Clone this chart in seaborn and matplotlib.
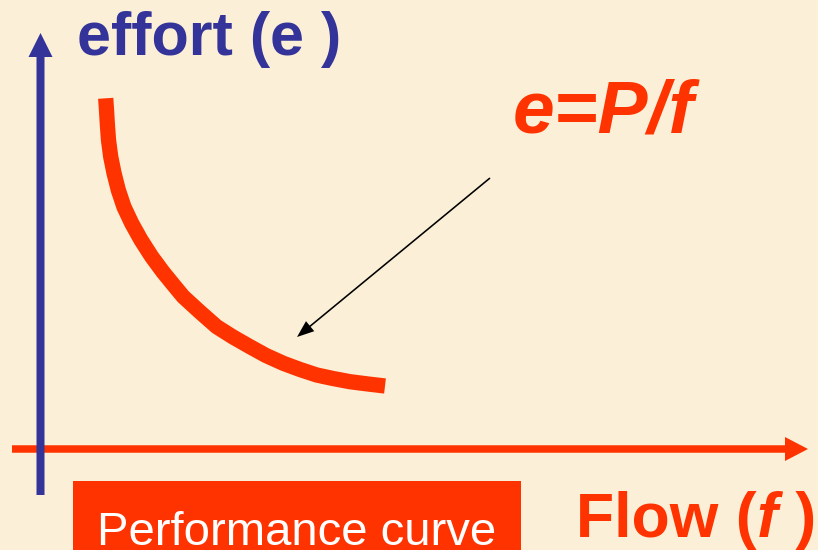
import matplotlib
matplotlib.use("Agg")
import matplotlib.pyplot as plt
import seaborn as sns
import pandas as pd
from matplotlib.patches import FancyArrow, Rectangle

# Performance curve e = P/f (flow, effort)
flow = [65.7, 66.5, 67.3, 68.5, 70.7, 74, 78.3, 84, 91.7, 101, 111.7, 123, 135, 143.3,
        160, 176.7, 193, 210, 226, 243.3, 260, 276.7, 293, 310, 328, 345]
effort = [351.7, 340, 326.7, 310, 293.3, 277, 260, 243, 226.7, 210, 193.3, 178, 163.3, 153.3,
          138, 123.3, 113, 103.3, 94.5, 86.7, 80.5, 75, 71.5, 68.3, 66, 64]

y_label = "effort ("
y_label_var = "e"
x_label = "Flow ("
x_label_var = "f"
formula = "e=P/f"
curve_name = "Performance curve"

RED = "#FF3300"
BLUE = "#333399"
BG = "#FBF0D7"

sns.set_theme(style="white")
plt.rcParams["font.family"] = ["Liberation Sans", "DejaVu Sans"]

fig = plt.figure(figsize=(8.18, 5.5), dpi=100, facecolor=BG)
ax = fig.add_axes([0, 0, 1, 1])
ax.set_facecolor(BG)
ax.set_xlim(-40, 778)
ax.set_ylim(-100, 450)
ax.axis("off")

df = pd.DataFrame({"flow": flow, "effort": effort})
sns.lineplot(data=df, x="flow", y="effort", sort=False, ax=ax, color=RED,
             linewidth=11, solid_capstyle="butt", solid_joinstyle="round", zorder=3)

# horizontal (flow) axis arrow
ax.add_patch(FancyArrow(-28, 1, 796, 0, width=7.5, head_width=24, head_length=23,
                        length_includes_head=True, color=RED, lw=0, zorder=2))
# vertical (effort) axis arrow
ax.add_patch(FancyArrow(0.5, -45, 0, 462, width=8, head_width=24, head_length=24,
                        length_includes_head=True, color=BLUE, lw=0, zorder=4))
# pointer arrow
ax.add_patch(FancyArrow(450, 272, -193, -159, width=1.6, head_width=13, head_length=17,
                        length_includes_head=True, color="black", lw=0, zorder=5))

# y label
t1 = ax.text(37, 395, y_label, color=BLUE, fontsize=44, fontweight="bold", va="baseline", ha="left")
t2 = ax.annotate(y_label_var, xy=(1, 0), xycoords=t1, color=BLUE, fontsize=44,
                 fontweight="bold", va="bottom", ha="left")
ax.annotate(" )", xy=(1, 0), xycoords=t2, color=BLUE, fontsize=44,
            fontweight="bold", va="bottom", ha="left")

# formula
ax.text(473, 318, formula, color=RED, fontsize=54, fontweight="bold", fontstyle="italic",
        va="baseline", ha="left")

# x label
x1 = ax.text(536, -87, x_label, color=RED, fontsize=45, fontweight="bold", va="baseline", ha="left")
x2 = ax.annotate(x_label_var, xy=(1, 0), xycoords=x1, color=RED, fontsize=45,
                 fontweight="bold", fontstyle="italic", va="bottom", ha="left")
ax.annotate(" )", xy=(1, 0), xycoords=x2, color=RED, fontsize=45,
            fontweight="bold", va="bottom", ha="left")

# curve name box
ax.add_patch(Rectangle((33, -110), 448, 79, color=RED, lw=0, zorder=2))
ax.text(257, -95, curve_name, color="white", fontsize=34, va="baseline", ha="center", zorder=3)

fig.savefig("out.png", dpi=100, facecolor=BG)
